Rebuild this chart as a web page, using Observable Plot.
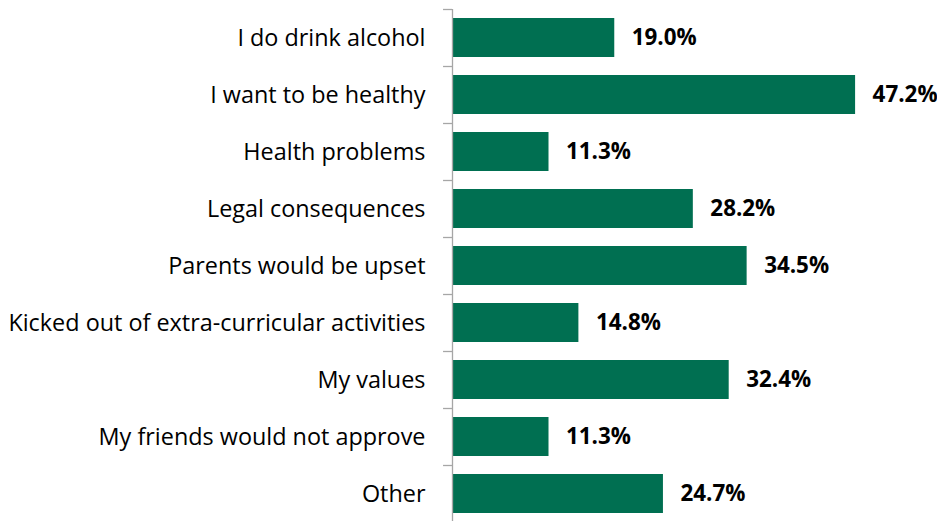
<!DOCTYPE html>
<html>
<head>
<meta charset="utf-8">
<script src="https://cdn.jsdelivr.net/npm/d3@7"></script>
<script src="https://cdn.jsdelivr.net/npm/@observablehq/plot@0.6"></script>
<style>
  html, body { margin: 0; padding: 0; background: #fff; }
  #chart { width: 937px; height: 521px; }
</style>
</head>
<body>
<div id="chart"></div>
<script>
const categories = [
  "I do drink alcohol",
  "I want to be healthy",
  "Health problems",
  "Legal consequences",
  "Parents would be upset",
  "Kicked out of extra-curricular activities",
  "My values",
  "My friends would not approve",
  "Other"
];
const values = [19.0, 47.2, 11.3, 28.2, 34.5, 14.8, 32.4, 11.3, 24.7];
const valueLabels = ["19.0%", "47.2%", "11.3%", "28.2%", "34.5%", "14.8%", "32.4%", "11.3%", "24.7%"];

const data = categories.map((c, i) => ({category: c, value: values[i], label: valueLabels[i]}));
const step = 57;

const chart = Plot.plot({
  width: 937,
  height: 521,
  marginLeft: 452,
  marginRight: 58,
  marginTop: 9,
  marginBottom: 0,
  style: {fontFamily: "'Open Sans', sans-serif", fontSize: "23px", background: "#fff", color: "#000", overflow: "visible"},
  x: {domain: [0, 50], axis: null},
  y: {domain: categories, range: [9, 522], paddingInner: 0.32, paddingOuter: 0.16, label: null},
  marks: [
    Plot.barX(data, {y: "category", x: "value", fill: "#006f51"}),
    Plot.ruleX([0], {stroke: "#a6a6a6", strokeWidth: 1.3}),
    Plot.ruleY(categories, {y: d => d, x1: -1.05, x2: 0, dy: -step / 2, stroke: "#a6a6a6", strokeWidth: 1.3}),
    Plot.text(data, {y: "category", x: "value", text: "label", textAnchor: "start", dx: 17, fontWeight: "bold", fontSize: 22.4, fill: "#000"}),
    Plot.axisY({tickSize: 0, tickPadding: 27, fontSize: 23.4, fill: "#000", label: null})
  ]
});
document.getElementById("chart").appendChild(chart);
</script>
</body>
</html>
